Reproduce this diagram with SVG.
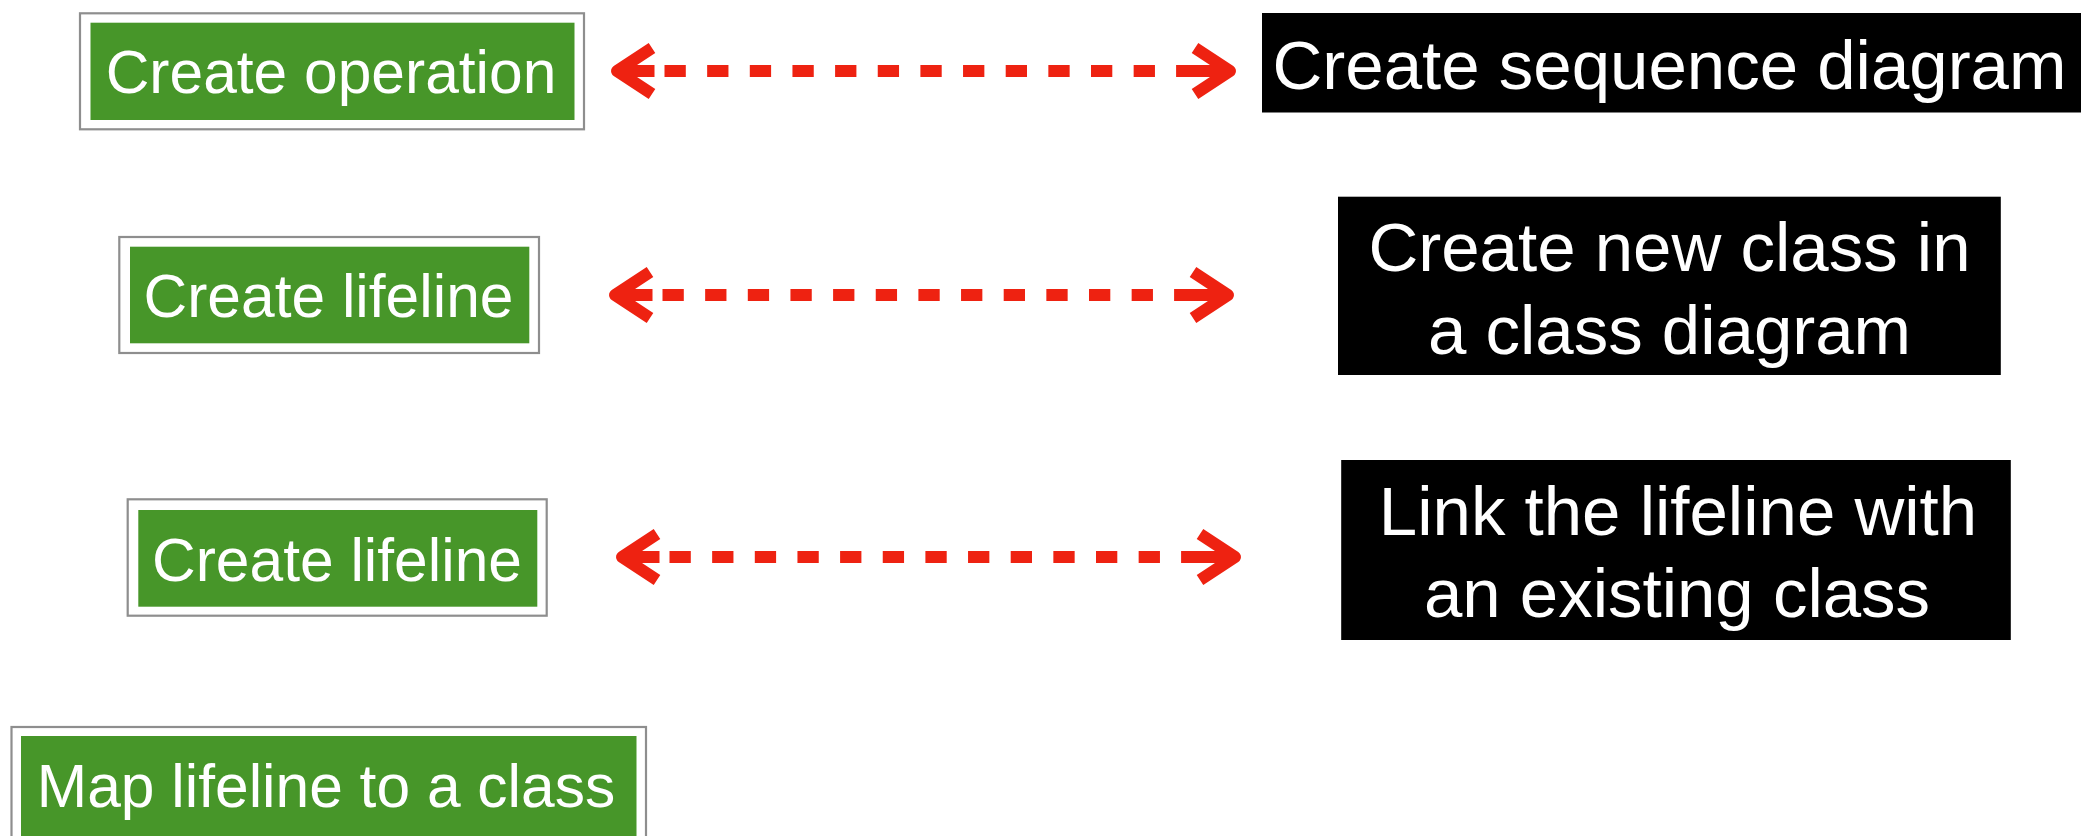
<svg xmlns="http://www.w3.org/2000/svg" width="2088" height="836" viewBox="0 0 2088 836">
  <style>
    .frame { fill: #ffffff; stroke: #8e8e8e; stroke-width: 2.2; }
    .green { fill: #479629; }
    .black { fill: #000000; }
    .gt { font-family: "Liberation Sans", Arial, Helvetica, sans-serif; font-size: 60.5px; fill: #ffffff; text-anchor: middle; }
    .bt { font-family: "Liberation Sans", Arial, Helvetica, sans-serif; font-size: 69px; fill: #ffffff; text-anchor: middle; }
    .head { fill: none; stroke: #EE2211; stroke-width: 12; stroke-linejoin: round; stroke-linecap: butt; }
    .dash { fill: none; stroke: #EE2211; stroke-width: 12; stroke-dasharray: 21.3 21.35; }
  </style>
  <defs>
    <g id="arrow">
      <path class="head" d="M41 -23 L6 0 L41 23 M6 0 H43.5"/>
      <line class="dash" x1="53.5" y1="0" x2="586.6" y2="0"/>
      <path class="head" d="M584 -23 L619 0 L584 23 M565.3 0 H619"/>
    </g>
  </defs>

  <g id="node-create-operation">
    <rect class="frame" x="80" y="13.3" width="504" height="116"/>
    <rect class="green" x="90.5" y="22.7" width="484" height="97.3"/>
    <text class="gt" x="331" y="93.3">Create operation</text>
  </g>

  <g id="node-create-lifeline-1">
    <rect class="frame" x="119.3" y="237" width="419.7" height="116"/>
    <rect class="green" x="130" y="246.7" width="399.3" height="96.6"/>
    <text class="gt" x="328.5" y="317.3">Create lifeline</text>
  </g>

  <g id="node-create-lifeline-2">
    <rect class="frame" x="127.7" y="499.3" width="419" height="116.4"/>
    <rect class="green" x="138.3" y="510" width="399" height="96.7"/>
    <text class="gt" x="337" y="580.7">Create lifeline</text>
  </g>

  <g id="node-map-lifeline">
    <rect class="frame" x="11.5" y="727" width="634.5" height="130"/>
    <rect class="green" x="21" y="736" width="615.5" height="110"/>
    <text class="gt" x="326" y="806.7">Map lifeline to a class</text>
  </g>

  <g id="node-create-sequence-diagram">
    <rect class="black" x="1262" y="13" width="819" height="99.5"/>
    <text class="bt" x="1669.5" y="88.5">Create sequence diagram</text>
  </g>

  <g id="node-create-new-class">
    <rect class="black" x="1338" y="196.7" width="662.8" height="178.3"/>
    <text class="bt" x="1669.5" y="271">Create new class in</text>
    <text class="bt" x="1669.5" y="354">a class diagram</text>
  </g>

  <g id="node-link-lifeline">
    <rect class="black" x="1341.2" y="460" width="669.6" height="180"/>
    <text class="bt" x="1678" y="535">Link the lifeline with</text>
    <text class="bt" x="1677" y="617">an existing class</text>
  </g>

  <g id="connectors">
    <use href="#arrow" transform="translate(611 71)"/>
    <use href="#arrow" transform="translate(609 295)"/>
    <use href="#arrow" transform="translate(616 557)"/>
  </g>
</svg>
